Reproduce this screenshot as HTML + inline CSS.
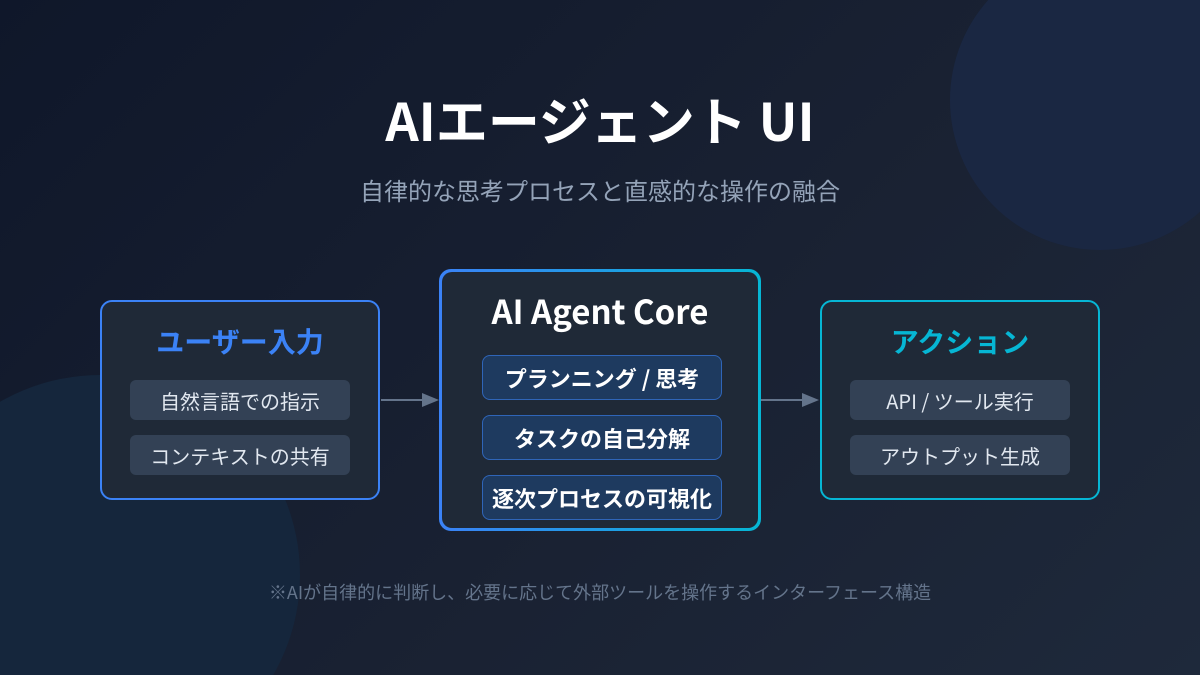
<!DOCTYPE html>
<html><head><meta charset="utf-8"><style>
*{margin:0;padding:0;box-sizing:border-box}
html,body{width:1200px;height:675px;overflow:hidden}
body{font-family:"Noto Sans CJK JP","Liberation Sans",sans-serif;background:linear-gradient(135deg,#0f172a 0%,#1a2233 60%,#1e293b 100%)}
#w{position:relative;width:1200px;height:675px;overflow:hidden}
.t{position:absolute;left:0;width:1200px;text-align:center;line-height:1}
.box{position:absolute;border-radius:12px;background:#1f2937;border:2px solid #3b82f6}
.h{position:absolute;left:0;right:0;text-align:center;font-weight:bold;line-height:1}
.it{position:absolute;border-radius:6px;background:#334155;color:#e2e8f0;font-size:20px;display:flex;align-items:center;justify-content:center}
.ci{position:absolute;left:40px;width:240px;height:45px;border-radius:8px;background:#1e3a5f;border:1px solid #2f65b8;color:#fff;font-weight:bold;font-size:22px;display:flex;align-items:center;justify-content:center}
</style></head><body><div id="w">
<svg style="position:absolute;left:0;top:0" width="1200" height="675">
<circle cx="1100" cy="100" r="150" fill="#1a2742"/>
<circle cx="100" cy="575" r="200" fill="#15263c"/>
</svg>
<div class="t" style="top:93px;font-size:52px;font-weight:bold;color:#fff">AIエージェント UI</div>
<div class="t" style="top:178px;font-size:24px;color:#94a3b8">自律的な思考プロセスと直感的な操作の融合</div>
<div class="t" style="top:583px;font-size:18px;color:#64748b">※AIが自律的に判断し、必要に応じて外部ツールを操作するインターフェース構造</div>
<div class="box" style="left:100px;top:300px;width:280px;height:200px">
<div class="h" style="top:25px;font-size:28px;color:#3b82f6">ユーザー入力</div>
<div class="it" style="left:28px;top:78px;width:220px;height:40px">自然言語での指示</div>
<div class="it" style="left:28px;top:133px;width:220px;height:40px">コンテキストの共有</div>
</div>
<div class="box" style="left:820px;top:300px;width:280px;height:200px;border-color:#06b6d4">
<div class="h" style="top:25px;font-size:28px;color:#06b6d4">アクション</div>
<div class="it" style="left:28px;top:78px;width:220px;height:40px">API / ツール実行</div>
<div class="it" style="left:28px;top:133px;width:220px;height:40px">アウトプット生成</div>
</div>
<div style="position:absolute;left:439px;top:269px;width:322px;height:262px;border-radius:12px;background:linear-gradient(90deg,#3b82f6,#06b6d4);padding:3px">
<div style="position:relative;width:100%;height:100%;border-radius:10px;background:#1f2937">
<div class="h" style="top:22px;font-size:33px;color:#fff">AI Agent Core</div>
<div class="ci" style="top:83px">プランニング / 思考</div>
<div class="ci" style="top:143px">タスクの自己分解</div>
<div class="ci" style="top:203px">逐次プロセスの可視化</div>
</div></div>
<svg style="position:absolute;left:0;top:0" width="1200" height="675">
<line x1="381" y1="400" x2="424" y2="400" stroke="#64748b" stroke-width="2"/>
<polygon points="422,393 439,400 422,407" fill="#64748b"/>
<line x1="761" y1="400" x2="804" y2="400" stroke="#64748b" stroke-width="2"/>
<polygon points="802,393 819,400 802,407" fill="#64748b"/>
</svg>
</div></body></html>
